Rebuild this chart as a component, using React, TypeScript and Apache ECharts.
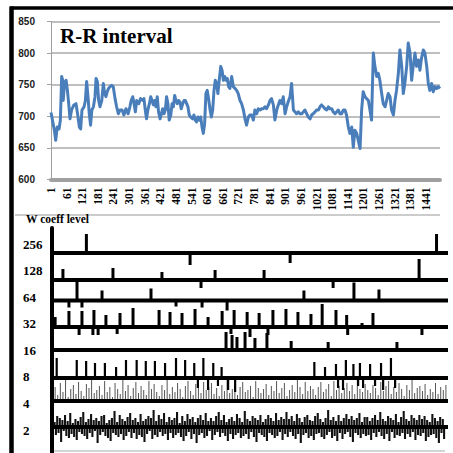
import React, { useEffect, useRef } from "react";
import * as echarts from "echarts";

// ---------- R-R interval (beat index, ms) ----------
const rrBeat = [
  0, 6, 13, 18, 24, 31, 36, 41, 45, 47, 52, 58, 63, 68, 73, 79, 88, 96, 102, 109, 114, 119, 127, 132, 137, 142, 147, 152, 157, 163,
  169, 173, 178, 183, 188, 195, 201, 206, 211, 216, 221, 227, 233, 239, 246, 252, 259, 265, 273, 280, 288, 296, 303, 308, 314, 319,
  324, 329, 337, 344, 352, 357, 362, 367, 372, 378, 383, 388, 393, 398, 403, 408, 413, 419, 424, 429, 434, 439, 444, 449, 454, 460,
  465, 470, 475, 480, 485, 490, 495, 500, 506, 511, 516, 521, 526, 531, 536, 544, 549, 554, 559, 564, 570, 575, 580, 585, 590, 595,
  600, 605, 611, 616, 621, 626, 631, 636, 641, 646, 652, 657, 662, 667, 672, 677, 682,
  687, 694, 700, 707, 713, 719, 726, 732, 739, 745, 751, 758, 764, 771, 777, 783, 790, 796, 803, 809, 815, 822, 828, 835, 841, 847,
  854, 860, 867, 873, 879, 886, 892, 899, 905, 911, 918, 924, 931, 937, 943, 950, 956, 963, 969, 975, 982, 988, 995, 1001, 1007,
  1014, 1020, 1027, 1033, 1039, 1046, 1052, 1059, 1065, 1071, 1078, 1084, 1091, 1097, 1103, 1110, 1116, 1123, 1129, 1135, 1142,
  1148, 1155, 1161, 1167, 1174, 1180, 1187, 1193, 1199, 1206, 1212, 1219, 1225, 1231, 1238, 1244, 1251, 1257, 1263, 1270, 1276,
  1283, 1289, 1295, 1302, 1308, 1315, 1321, 1327, 1334, 1340, 1347, 1353, 1359, 1366, 1372, 1379, 1385, 1391, 1398, 1404, 1411,
  1417, 1423, 1430, 1436, 1443, 1449, 1455, 1462, 1468, 1475, 1481, 1487, 1494,
];
const rrValue = [
  706, 693, 678, 662, 683, 680, 694, 763, 757, 725, 753, 757, 741, 720, 696, 710, 718, 720, 704, 683, 680, 710, 715, 725, 755, 731,
  704, 686, 710, 715, 731, 760, 755, 725, 715, 725, 752, 736, 731, 739, 744, 747, 749, 747, 728, 715, 704, 710, 710, 702, 712, 704,
  715, 725, 731, 720, 707, 725, 720, 728, 725, 728, 710, 696, 710, 720, 731, 725, 718, 725, 715, 731, 707, 696, 704, 712, 704, 710,
  731, 720, 694, 702, 720, 715, 733, 725, 720, 725, 723, 712, 720, 725, 725, 720, 715, 702, 699, 696, 702, 694, 691, 699, 694, 699,
  683, 673, 688, 736, 741, 728, 710, 699, 710, 741, 757, 752, 736, 757, 779, 773, 757, 763, 757, 760, 747,
  744, 763, 747, 744, 741, 736, 725, 720, 710, 696, 686, 699, 702, 702, 694, 710, 704, 712, 710, 712, 712, 715, 712, 718, 725, 728,
  718, 694, 710, 718, 725, 720, 731, 704, 715, 723, 731, 752, 710, 707, 704, 707, 704, 704, 707, 710, 704, 699, 696, 702, 704,
  707, 710, 710, 715, 718, 715, 712, 710, 715, 712, 712, 707, 704, 707, 710, 704, 704, 710, 710, 702, 683,
  673, 683, 651, 678, 673, 662, 649, 710, 739, 731, 728, 725, 710, 694, 800, 779, 763, 768, 757, 736, 720,
  715, 725, 736, 731, 710, 702, 725, 741, 768, 805, 779, 736, 752, 779, 816, 800, 757, 779, 800, 779, 789,
  773, 792, 805, 800, 779, 752, 741, 752, 739, 747, 744, 747, 744,
];
const rrMin = 600;
const rrMax = 850;
const rrStep = 50;
const beatLast = 1494;
const beatLabelStep = 60; // labels 1, 61, 121 ... 1441

// ---------- wavelet coefficient levels ----------
const levelNames = ["256", "128", "64", "32", "16", "8", "4", "2"];

// [beat index, coefficient]
const w256: number[][] = [[132, 19], [530, -12], [914, -10], [1476, 19]];
const w128: number[][] = [[42, 11], [234, 12], [422, 8], [572, -8], [626, 10], [814, 10], [1079, -8], [1409, 21]];
const w64: number[][] = [
  [65, -7], [96, 19], [115, -7], [192, 10], [380, 12], [476, -6], [576, -7], [672, -10], [967, 10], [1159, 18], [1255, 11],
];
const w32: number[][] = [
  [12, 10], [65, 16], [104, -8], [115, 16], [157, -8], [161, 17], [177, -8], [207, 12], [250, -7], [261, 14], [311, 19],
  [411, 17], [453, 15], [499, 14], [549, 18], [599, 10], [653, 16], [687, -7], [699, 17], [749, 15], [760, -10], [795, 14],
  [829, -8], [848, 17], [898, 18], [944, 15], [994, 13], [1037, 23], [1090, 17], [1131, 12], [1135, -8], [1190, 4],
  [1232, 14], [1420, -8],
];
const w16: number[][] = [[668, 18], [691, 15], [710, 13], [741, 18], [779, 12], [825, 17], [918, 9], [1060, 8], [1324, 8]];
const w8: number[][] = [
  [18, 20], [95, 18], [131, 17], [165, 15], [203, 15], [246, 11], [284, 18], [325, 18], [360, 17], [395, 17], [434, 15],
  [476, 20], [511, 18], [546, 15], [560, -10], [581, 20], [599, -12], [619, 15], [637, -8], [651, 11], [676, -12],
  [703, -14], [1007, 16], [1048, 11], [1090, 14], [1098, -10], [1117, -12], [1128, 18], [1157, 14], [1175, -8],
  [1182, 15], [1194, -10], [1221, 14], [1240, -8], [1263, 15], [1271, -12], [1301, 20], [1317, -10],
];
// level 4: one value every 10 beats from beat 12
const w4Start = 12;
const w4Step = 10;
const w4Values = [
  14, 6, 18, 9, 21, 4, 12, 16, 7, 19, 10, 5, 17, 13, 22, 8, 11, 15, 6, 20,
  9, 14, 4, 18, 12, 7, 21, 10, 16, 5, 13, 19, 8, 15, 11, 6, 20, 12, 17, 9,
  5, 16, 11, 21, 7, 14, 9, 18, 12, 4, 15, 20, 10, 6, 17, 13, 8, 19, 11, 14,
  18, 7, 13, 5, 16, 10, 21, 8, 12, 17, 6, 14, 19, 9, 11, 15, 4, 20, 13, 8,
  12, 17, 6, 15, 10, 20, 8, 13, 18, 5, 11, 16, 9, 21, 14, 7, 19, 10, 15, 12,
  6, 14, 19, 9, 12, 17, 5, 20, 11, 15, 8, 13, 18, 10, 16, 7, 21, 12, 9, 17,
  11, 8, 16, 13, 6, 19, 10, 15, 20, 7, 14, 9, 18, 12, 5, 16, 11, 22, 8, 13,
  15, 10, 17, 6, 12, 9, 18, 7, 14, 11, 16,
];
// level 2: one value every 5 beats from beat 10
const w2Start = 10;
const w2Step = 5;
const w2Values = [
  5, -8, 11, -6, 9, -15, 7, -4, 12, -9, 6, -11, 14, -7, 4, -10, 8, -13, 6, -5,
  10, -7, 15, -9, 5, -12, 8, -6, 13, -10, 7, -4, 9, -16, 6, -8, 11, -5, 12, -9,
  4, -11, 7, -14, 9, -6, 16, -8, 5, -10, 12, -7, 8, -13, 6, -9, 10, -5, 14, -11,
  7, -6, 9, -12, 5, -8, 13, -10, 6, -15, 8, -7, 11, -4, 9, -12, 17, -8, 6, -10,
  12, -5, 8, -9, 14, -7, 5, -13, 10, -6, 7, -11, 9, -8, 15, -6, 4, -10, 11, -14,
  6, -9, 13, -5, 8, -12, 10, -7, 5, -16, 9, -8, 12, -6, 7, -11, 14, -9, 6, -4,
  9, -13, 6, -8, 11, -5, 15, -10, 7, -6, 12, -9, 5, -14, 8, -7, 10, -12, 6, -8,
  13, -6, 9, -11, 5, -9, 16, -7, 8, -12, 6, -5, 11, -10, 9, -15, 7, -6, 12, -8,
  5, -10, 8, -14, 12, -6, 9, -8, 6, -11, 14, -9, 7, -5, 10, -13, 8, -7, 15, -10,
  8, -5, 11, -9, 6, -12, 13, -7, 9, -16, 5, -8, 10, -6, 12, -11, 7, -9, 6, -13,
  11, -7, 14, -6, 8, -10, 5, -12, 9, -8, 17, -5, 7, -11, 10, -9, 6, -14, 12, -6,
  6, -12, 9, -7, 13, -5, 8, -10, 11, -15, 7, -6, 9, -8, 14, -11, 5, -7, 10, -9,
  10, -8, 6, -13, 9, -6, 12, -10, 7, -5, 15, -9, 8, -12, 6, -7, 11, -14, 9, -5,
  7, -11, 13, -8, 5, -9, 10, -6, 16, -12, 8, -7, 6, -10, 12, -5, 9, -13, 7, -8,
  12, -9, 8, -6, 11, -14, 7, -10, 5, -8, 13, -7, 9, -11, 6, -16, 10, -6, 8, -12,
];

// ---------- layout (not data) ----------
const W = 453;
const H = 453;
const bottomXMax = 1520;
const bottomYMax = 225;
const levelOffset = [200, 173, 152.5, 126, 103, 75, 52, 26]; // baseline height in the lower panel
const levelWidth = [3, 3, 3, 3, 3, 2.2, 1, 2.1];
const levelColor = ["#000", "#000", "#000", "#000", "#000", "#000", "#555", "#111"];
const serif = "'Liberation Serif', 'Times New Roman', serif";
const sans = "'Liberation Sans', Arial, sans-serif";

function spikeSeries(levelIdx: number, data: number[][]) {
  return {
    type: "custom",
    xAxisIndex: 1,
    yAxisIndex: 1,
    clip: false,
    silent: true,
    z: 2,
    data,
    renderItem: (_p: any, api: any) => {
      const s = api.value(0);
      const a = api.value(1);
      const base = levelOffset[levelIdx];
      const p0 = api.coord([s, base]);
      const p1 = api.coord([s, base + a]);
      return {
        type: "line",
        shape: { x1: p0[0], y1: p0[1], x2: p1[0], y2: p1[1] },
        style: { stroke: levelColor[levelIdx], lineWidth: levelWidth[levelIdx] },
      };
    },
  };
}

export default function App() {
  const ref = useRef<HTMLDivElement>(null);
  useEffect(() => {
    if (!ref.current) return;
    const chart = echarts.init(ref.current, undefined, { renderer: "svg" });
    const w4 = w4Values.map((v, i) => [w4Start + i * w4Step, v]);
    const w2 = w2Values.map((v, i) => [w2Start + i * w2Step, v]);
    const levelData = [w256, w128, w64, w32, w16, w8, w4, w2];

    const option: any = {
      animation: false,
      backgroundColor: "#fff",
      title: [
        {
          text: "R-R interval",
          left: 60,
          top: 25,
          padding: 0,
          textStyle: { fontFamily: serif, fontWeight: "bold", fontSize: 21, color: "#000" },
        },
        {
          text: "W coeff level",
          left: 26,
          top: 213,
          padding: 0,
          textStyle: { fontFamily: serif, fontWeight: "bold", fontSize: 11.5, color: "#000" },
        },
      ],
      grid: [
        { left: 51, right: 13, top: 21.5, bottom: 273.5 },
        { left: 52, right: 5, top: 228, bottom: 0 },
        { left: 23, width: 1, top: 231, bottom: 9.7 },
      ],
      xAxis: [
        {
          type: "value",
          gridIndex: 0,
          min: 0,
          max: beatLast,
          interval: beatLabelStep,
          axisLine: { show: true, lineStyle: { color: "#a0a0a0", width: 4 } },
          axisTick: { show: false },
          splitLine: { show: false },
          axisLabel: {
            rotate: 90,
            margin: 8,
            showMaxLabel: false,
            fontFamily: serif,
            fontWeight: "bold",
            fontSize: 11.5,
            color: "#000",
            formatter: (v: number) => (v % beatLabelStep === 0 ? String(v + 1) : ""),
          },
        },
        { type: "value", gridIndex: 1, min: 0, max: bottomXMax, show: false },
        { type: "value", gridIndex: 2, show: false },
      ],
      yAxis: [
        {
          type: "value",
          gridIndex: 0,
          min: rrMin,
          max: rrMax,
          interval: rrStep,
          axisLine: { show: true, lineStyle: { color: "#a0a0a0", width: 1 } },
          axisTick: { show: true, length: 4, lineStyle: { color: "#a0a0a0" } },
          splitLine: { show: true, lineStyle: { color: "#aaaaaa", width: 1.5 } },
          axisLabel: { fontFamily: sans, fontWeight: "bold", fontSize: 10, color: "#222", margin: 16 },
        },
        {
          type: "value",
          gridIndex: 1,
          min: 0,
          max: bottomYMax,
          axisLine: { show: true, onZero: false, lineStyle: { color: "#000", width: 4 } },
          axisTick: { show: false },
          axisLabel: { show: false },
          splitLine: { show: false },
        },
        {
          type: "category",
          gridIndex: 2,
          inverse: true,
          data: levelNames,
          axisLine: { show: false },
          axisTick: { show: false },
          axisLabel: {
            inside: true,
            margin: 0,
            fontFamily: serif,
            fontWeight: "bold",
            fontSize: 13,
            color: "#000",
          },
        },
      ],
      series: [
        {
          type: "line",
          xAxisIndex: 0,
          yAxisIndex: 0,
          data: rrBeat.map((b, i) => [b, rrValue[i]]),
          showSymbol: false,
          lineStyle: { color: "#4a7ebb", width: 3, join: "round" },
          silent: true,
        },
        ...levelData.map((d, i) => spikeSeries(i, d)).reverse(),
        {
          type: "custom",
          xAxisIndex: 1,
          yAxisIndex: 1,
          clip: false,
          silent: true,
          z: 3,
          data: levelNames.map((_, i) => [i]),
          renderItem: (_p: any, api: any) => {
            const i = api.value(0);
            const a = api.coord([0, levelOffset[i]]);
            const b = api.coord([bottomXMax, levelOffset[i]]);
            return {
              type: "line",
              shape: { x1: a[0], y1: a[1], x2: b[0], y2: b[1] },
              style: { stroke: "#000", lineWidth: 4 },
            };
          },
        },
      ],
      graphic: [
        { type: "line", shape: { x1: 10, y1: 8, x2: W, y2: 8 }, style: { stroke: "#000", lineWidth: 3.5 }, silent: true },
        { type: "line", shape: { x1: 11.5, y1: 6.5, x2: 11.5, y2: H }, style: { stroke: "#000", lineWidth: 4.5 }, silent: true },
        { type: "line", shape: { x1: 15, y1: 215, x2: 440, y2: 215 }, style: { stroke: "#999", lineWidth: 1 }, silent: true },
        { type: "line", shape: { x1: 52, y1: 451, x2: 445, y2: 451 }, style: { stroke: "#aaa", lineWidth: 1 }, silent: true },
      ],
    };
    chart.setOption(option);
    return () => chart.dispose();
  }, []);
  return <div ref={ref} style={{ position: "fixed", left: 0, top: 0, width: W, height: H }} />;
}
